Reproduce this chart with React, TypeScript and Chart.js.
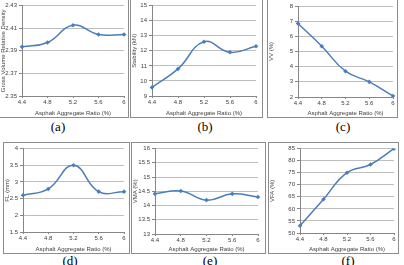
import React, { useEffect, useRef } from 'react';
import { Chart, registerables } from 'chart.js';

Chart.register(...registerables);

// ---------- data ----------
const ratioLabels = ['4.4', '4.8', '5.2', '5.6', '6'];
const densityValues = [2.3935, 2.3974, 2.4126, 2.4044, 2.4044];
const stabilityValues = [9.57, 10.8, 12.6, 11.9, 12.3];
const voidValues = [6.85, 5.35, 3.7, 3.0, 2.07];
const flowValues = [2.6, 2.79, 3.5, 2.71, 2.71];
const vmaValues = [14.41, 14.51, 14.19, 14.41, 14.3];
const vfaValues = [53, 64, 75, 78.4, 85];

const xAxisTitle = 'Asphalt Aggregate Ratio (%)';
const yTitles = ['Gross Volume Relative Density', 'Stability (kN)', 'VV (%)', 'FL (mm)', 'VMA (%)', 'VFA (%)'];
const yMins = [2.35, 9, 2, 1.5, 13, 50];
const yMaxs = [2.43, 15, 8, 4, 16, 85];
const ySteps = [0.02, 1, 1, 0.5, 0.5, 5];
const panelLetters = ['(a)', '(b)', '(c)', '(d)', '(e)', '(f)'];
const seriesList = [densityValues, stabilityValues, voidValues, flowValues, vmaValues, vfaValues];

// ---------- layout (positions only) ----------
type Box = { x: number; y: number; w: number; h: number };
type Plot = { l: number; r: number; t: number; b: number };
const boxes: Box[] = [
  { x: -1, y: -1, w: 130, h: 119 },
  { x: 130, y: -1, w: 133, h: 119 },
  { x: 267, y: -1, w: 131, h: 119 },
  { x: 3, y: 142, w: 127, h: 112 },
  { x: 131, y: 142, w: 135, h: 112 },
  { x: 268, y: 142, w: 131, h: 112 },
];
const plots: Plot[] = [
  { l: 22, r: 124, t: 4, b: 96 },
  { l: 152, r: 256, t: 4, b: 96 },
  { l: 298, r: 394, t: 6, b: 97 },
  { l: 23, r: 124, t: 146, b: 232 },
  { l: 155, r: 258, t: 148, b: 234 },
  { l: 300, r: 395, t: 146, b: 233 },
];
const letterPos = [
  { x: 58, y: 127 },
  { x: 205, y: 127 },
  { x: 343, y: 127 },
  { x: 70, y: 261 },
  { x: 210, y: 261 },
  { x: 348, y: 261 },
];

const lineColor = '#4a7ebb';
const gridColor = '#bfbfbf';
const axisColor = '#868686';
const textColor = '#404040';
const smallFont = { family: 'Liberation Sans, Arial, sans-serif', size: 6 };

function Panel({ idx }: { idx: number }) {
  const ref = useRef<HTMLCanvasElement>(null);
  const box = boxes[idx];
  const plot = plots[idx];
  const innerL = box.x + 1;
  const innerT = box.y + 1;
  const innerW = box.w - 2;
  const innerH = box.h - 2;

  useEffect(() => {
    const chart = new Chart(ref.current as HTMLCanvasElement, {
      type: 'line',
      data: {
        labels: ratioLabels,
        datasets: [
          {
            data: seriesList[idx],
            borderColor: lineColor,
            backgroundColor: lineColor,
            borderWidth: 1.5,
            tension: 0.45,
            pointStyle: 'rectRot',
            pointRadius: 2.3,
            pointBorderWidth: 0,
            fill: false,
          },
        ],
      },
      options: {
        responsive: false,
        animation: false,
        devicePixelRatio: 1,
        layout: {
          padding: {
            left: 0,
            top: plot.t - innerT,
            right: innerL + innerW - plot.r,
            bottom: 0,
          },
        },
        plugins: { legend: { display: false }, tooltip: { enabled: false } },
        scales: {
          x: {
            type: 'category',
            offset: false,
            grid: { drawOnChartArea: false, tickLength: 2, color: axisColor },
            border: { color: axisColor },
            ticks: { font: smallFont, color: textColor, padding: 1, maxRotation: 0, autoSkip: false },
            title: { display: true, text: xAxisTitle, font: smallFont, color: textColor, padding: 0 },
            afterFit: (s: any) => {
              s.height = innerT + innerH - plot.b;
            },
          },
          y: {
            min: yMins[idx],
            max: yMaxs[idx],
            ticks: {
              stepSize: ySteps[idx],
              font: smallFont,
              color: textColor,
              padding: 2,
              callback: (v: any) => String(parseFloat(Number(v).toFixed(2))),
            },
            grid: { color: gridColor, tickLength: 3, tickColor: axisColor },
            border: { color: axisColor },
            title: { display: true, text: yTitles[idx], font: smallFont, color: textColor, padding: 0 },
            afterFit: (s: any) => {
              s.width = plot.l - innerL;
            },
          },
        },
      },
    } as any);
    return () => chart.destroy();
  }, []);

  return (
    <div
      style={{
        position: 'absolute',
        left: box.x,
        top: box.y,
        width: innerW,
        height: innerH,
        border: '1px solid #8c8c8c',
        background: '#fff',
      }}
    >
      <canvas ref={ref} width={innerW} height={innerH} style={{ display: 'block', width: innerW, height: innerH }} />
    </div>
  );
}

export default function App() {
  return (
    <div
      style={{
        position: 'fixed',
        left: 0,
        top: 0,
        width: 404,
        height: 265,
        background: '#fff',
        overflow: 'hidden',
      }}
    >
      {panelLetters.map((_, i) => (
        <Panel key={i} idx={i} />
      ))}
      {panelLetters.map((t, i) => (
        <div
          key={'l' + i}
          style={{
            position: 'absolute',
            left: letterPos[i].x - 20,
            top: letterPos[i].y - 8,
            width: 40,
            height: 16,
            lineHeight: '16px',
            textAlign: 'center',
            fontFamily: 'Liberation Serif, serif',
            fontSize: 13,
            color: '#000',
          }}
        >
          {t}
        </div>
      ))}
    </div>
  );
}
